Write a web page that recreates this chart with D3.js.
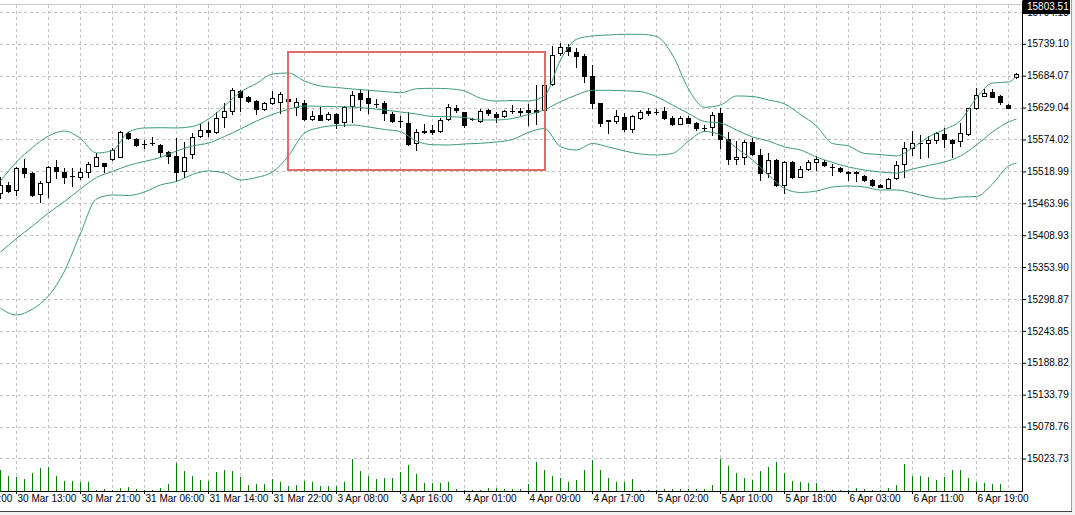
<!DOCTYPE html>
<html lang="en">
<head>
<meta charset="utf-8">
<title>DE30 H1 with Bollinger Bands</title>
<script src="https://cdn.jsdelivr.net/npm/d3@7"></script>
<style>
  body { margin: 0; background: #f0f0f0; }
  svg text { font-family: "Liberation Sans", Arial, sans-serif; font-size: 10px; }
</style>
</head>
<body>
<script>
// H1 bars, left to right (bar 0 = 30 Mar 11:00)
var open = [15481.7,15495.6,15486.1,15524.3,15516.2,15479.5,15500.2,15526.0,15518.8,15511.9,
  15509.8,15517.1,15528.8,15533.0,15540.4,15544.3,15585.8,15574.4,15567.1,15568.0,
  15564.5,15553.3,15545.0,15520.2,15548.5,15579.2,15590.4,15586.5,15612.3,15623.7,
  15657.7,15647.3,15641.0,15626.1,15636.5,15638.2,15643.9,15629.6,15636.5,15608.9,
  15616.3,15608.9,15617.2,15604.7,15631.8,15653.7,15645.1,15636.1,15637.0,15617.2,
  15606.5,15601.9,15567.5,15587.5,15590.4,15589.5,15608.9,15628.4,15620.9,15610.2,
  15606.5,15624.9,15618.0,15614.6,15623.7,15623.7,15624.9,15624.4,15624.4,15668.9,
  15722.7,15734.4,15725.5,15718.1,15683.6,15637.5,15607.1,15606.5,15612.8,15592.1,
  15610.6,15623.5,15622.3,15623.2,15610.6,15601.6,15611.9,15601.9,15594.7,15596.1,
  15619.7,15574.4,15539.9,15543.0,15570.2,15547.3,15515.7,15538.7,15494.7,15535.2,
  15509.8,15523.1,15534.4,15536.0,15527.4,15524.9,15517.1,15518.3,15511.6,15504.2,
  15495.0,15491.2,15507.1,15531.8,15558.9,15567.5,15568.5,15573.7,15583.2,15573.7,
  15571.9,15583.5,15627.8,15649.7,15655.9,15648.2,15634.0,15681.3];
var high = [15509.4,15501.2,15527.4,15540.4,15517.1,15502.4,15528.8,15538.7,15525.7,15524.0,
  15524.3,15535.7,15551.2,15533.5,15559.4,15588.7,15587.5,15577.1,15573.2,15578.4,
  15566.3,15554.2,15576.1,15569.7,15584.4,15601.6,15604.2,15622.0,15637.8,15663.7,
  15659.4,15649.1,15642.2,15639.2,15657.7,15655.4,15652.5,15645.6,15643.0,15623.2,
  15629.6,15620.6,15619.7,15631.8,15657.7,15660.3,15659.4,15643.9,15640.4,15621.5,
  15614.6,15620.6,15592.1,15599.9,15599.0,15611.1,15634.4,15633.5,15622.0,15610.3,
  15625.8,15626.6,15620.6,15624.9,15633.5,15627.5,15636.1,15668.0,15687.0,15735.3,
  15739.9,15738.8,15732.7,15721.5,15702.5,15637.8,15608.5,15624.9,15619.7,15616.3,
  15624.9,15627.5,15627.0,15629.6,15614.6,15613.7,15614.0,15604.7,15599.0,15622.0,
  15627.8,15586.1,15571.4,15572.3,15576.6,15556.8,15550.2,15539.9,15536.9,15536.9,
  15528.3,15539.2,15546.4,15539.2,15531.8,15527.4,15519.7,15519.7,15512.8,15505.9,
  15496.4,15507.1,15536.4,15570.2,15588.7,15582.6,15579.5,15587.5,15593.3,15574.4,
  15601.9,15628.4,15662.3,15660.3,15660.3,15650.8,15634.4,15688.2];
var low = [15473.1,15482.6,15478.3,15509.8,15476.6,15466.7,15474.3,15507.6,15499.5,15494.3,
  15505.9,15509.8,15528.3,15518.5,15538.7,15543.8,15574.9,15562.8,15559.4,15564.5,
  15545.6,15533.5,15501.9,15509.8,15542.1,15578.4,15580.0,15584.7,15595.6,15618.0,
  15624.0,15638.7,15618.0,15624.9,15636.1,15619.2,15633.5,15617.1,15607.7,15608.5,
  15607.7,15607.7,15593.3,15597.3,15604.7,15624.9,15619.2,15629.6,15607.7,15604.7,
  15595.6,15564.5,15555.9,15584.7,15584.3,15587.8,15607.7,15622.3,15596.1,15608.5,
  15604.7,15616.3,15604.7,15613.4,15619.2,15616.3,15599.0,15600.7,15622.0,15668.0,
  15719.8,15719.8,15699.6,15673.7,15627.8,15597.3,15585.8,15602.6,15588.7,15587.5,
  15608.9,15615.5,15618.0,15608.9,15599.0,15599.9,15601.9,15590.4,15589.2,15581.8,
  15560.2,15531.8,15531.8,15531.8,15547.3,15503.5,15509.8,15493.8,15482.3,15507.9,
  15508.8,15521.9,15521.4,15528.3,15513.6,15518.5,15504.2,15502.4,15502.9,15493.8,
  15491.6,15489.8,15505.4,15508.8,15548.1,15542.1,15543.3,15568.8,15560.6,15544.3,
  15562.8,15581.8,15626.1,15648.7,15646.9,15635.3,15628.9,15679.6];
var close = [15495.6,15485.7,15525.7,15515.7,15479.1,15499.0,15526.0,15519.7,15509.8,15511.0,
  15517.9,15531.8,15543.3,15528.3,15555.9,15586.5,15576.1,15563.7,15566.3,15567.5,
  15553.0,15545.6,15518.5,15543.3,15577.5,15590.4,15586.5,15610.6,15623.2,15659.4,
  15646.5,15641.0,15626.1,15637.0,15645.1,15652.5,15641.0,15638.2,15608.9,15614.6,
  15608.5,15617.2,15603.0,15630.6,15651.6,15643.9,15637.8,15635.3,15619.2,15606.5,
  15605.9,15565.7,15587.8,15588.2,15587.8,15607.7,15630.6,15625.4,15598.2,15608.9,
  15623.2,15619.2,15613.4,15623.2,15623.2,15620.6,15620.6,15620.9,15668.0,15719.8,
  15734.4,15726.7,15718.1,15683.6,15637.5,15601.9,15606.5,15614.6,15592.6,15614.6,
  15621.5,15618.9,15621.8,15610.6,15600.4,15611.9,15603.3,15593.0,15594.2,15616.3,
  15574.4,15539.9,15543.8,15570.2,15549.0,15515.7,15538.7,15495.6,15535.2,15509.8,
  15522.6,15535.2,15539.9,15530.0,15526.6,15519.2,15516.2,15515.7,15504.2,15495.6,
  15492.9,15505.4,15530.0,15558.9,15567.5,15568.3,15573.2,15585.2,15574.4,15568.5,
  15584.7,15627.8,15650.8,15653.9,15648.0,15638.2,15629.2,15687.0];
var volume = [620,470,420,380,530,680,720,470,320,320,270,270,50,70,50,100,120,80,50,50,
  100,230,830,590,470,350,320,560,620,590,440,200,210,230,380,270,150,180,320,290,
  170,170,170,270,950,590,470,380,410,410,570,770,510,240,260,260,290,70,30,50,
  50,100,100,70,70,70,230,870,620,470,410,290,350,620,930,620,410,290,290,380,
  30,30,50,70,70,70,70,70,70,200,950,740,530,410,350,590,710,860,530,320,
  290,260,260,30,30,30,30,100,70,30,30,100,200,800,470,470,440,350,440,620,
  620,410,290,260,230,230,20,10];

// Bollinger Bands, read every second bar (0, 2, ... 126) plus the last bar
var bandBars = d3.range(0, 128, 2).concat([127]);
var bandUpper = [15502.4,15535.2,15560.2,15580.1,15588.7,15575.7,15550.7,15555.0,15587.0,15593.9,
  15594.4,15593.9,15596.4,15609.4,15631.8,15656.0,15670.6,15687.0,15688.7,15674.9,
  15666.3,15663.7,15661.1,15658.9,15656.8,15654.7,15661.5,15662.3,15661.5,15657.7,
  15645.1,15640.4,15641.3,15640.4,15649.6,15711.2,15746.9,15752.6,15754.3,15755.5,
  15755.5,15751.7,15719.8,15661.1,15629.6,15633.5,15649.1,15648.2,15642.2,15635.3,
  15617.1,15597.3,15567.1,15562.8,15549.9,15548.1,15545.6,15559.4,15578.4,15591.3,
  15606.8,15645.6,15671.5,15673.2,15683.6];
var bandMiddle = [15380.0,15403.2,15424.8,15447.2,15467.1,15488.6,15508.5,15518.8,15529.2,15536.1,
  15543.0,15554.2,15562.8,15568.0,15579.2,15592.1,15605.9,15617.1,15626.1,15631.8,
  15631.3,15630.6,15630.1,15627.8,15624.9,15621.5,15618.0,15613.7,15613.4,15612.0,
  15607.7,15607.7,15610.2,15617.1,15625.2,15639.2,15650.8,15658.9,15658.9,15658.0,
  15656.5,15647.9,15633.5,15618.9,15605.0,15602.4,15590.4,15578.4,15571.4,15561.1,
  15555.9,15543.8,15534.4,15526.6,15521.4,15518.0,15516.2,15523.1,15529.2,15535.2,
  15545.6,15564.5,15587.0,15604.2,15609.4];
var bandLower = [15282.8,15271.3,15281.6,15304.1,15347.2,15412.2,15471.4,15478.3,15477.4,15483.5,
  15495.6,15501.6,15513.6,15519.7,15516.2,15504.2,15508.5,15518.0,15545.6,15585.2,
  15594.7,15598.2,15599.0,15595.6,15591.3,15587.5,15571.4,15565.0,15564.5,15566.3,
  15567.5,15569.7,15574.0,15586.1,15593.0,15561.6,15555.9,15567.1,15561.1,15554.2,
  15549.0,15547.3,15549.9,15571.4,15587.8,15581.8,15559.4,15538.7,15512.8,15489.5,
  15482.6,15485.2,15492.1,15493.8,15492.1,15486.9,15486.9,15481.7,15474.8,15471.4,
  15474.8,15475.7,15497.3,15528.3,15533.0];

// price scale ticks and time labels
var priceTicks = [15023.73,15078.76,15133.79,15188.82,15243.85,15298.87,15353.90,15408.93,
  15463.96,15518.99,15574.02,15629.04,15684.07,15739.10,15794.13];
var topPrice = 15803.51;
var timeBars = [-6,2,10,18,26,34,42,50,58,66,74,82,90,98,106,114,122];
var timeLabels = ["30 Mar 05:00","30 Mar 13:00","30 Mar 21:00","31 Mar 06:00","31 Mar 14:00",
  "31 Mar 22:00","3 Apr 08:00","3 Apr 16:00","4 Apr 01:00","4 Apr 09:00","4 Apr 17:00",
  "5 Apr 02:00","5 Apr 10:00","5 Apr 18:00","6 Apr 03:00","6 Apr 11:00","6 Apr 19:00"];
var gridBars = d3.range(2, 128, 4);

// rectangle object drawn on the chart (bar range and price range)
var boxBars = [36, 68];
var boxPrices = [15725.5, 15521.4];

var width = 1075;
var height = 515;

var svg = d3.select("body")
  .append("svg")
  .attr("width", width)
  .attr("height", height);

// window face and frame
svg.append("rect").attr("x", 0).attr("y", 0).attr("width", 1071).attr("height", 511).attr("fill", "#ffffff");
svg.append("line").attr("x1", 1071.5).attr("x2", 1071.5).attr("y1", 0).attr("y2", 512)
  .attr("stroke", "#a0a0a0");
svg.append("line").attr("x1", 0).attr("x2", 1072).attr("y1", 511.5).attr("y2", 511.5)
  .attr("stroke", "#404040");

var x = d3.scaleLinear().domain([0, 127.75]).range([0, 1022]);
var y = d3.scaleLinear().domain([14966.8, 15814.65]).range([491.5, 0]);
var v = d3.scaleLinear().domain([0, 1000]).range([491.5, 457.5]);

var plot = svg.append("g").attr("shape-rendering", "crispEdges");

// top edge of chart area
plot.append("line").attr("x1", 0).attr("x2", 1022).attr("y1", 4.5).attr("y2", 4.5)
  .attr("stroke", "#c8c8c8");

// grid
plot.selectAll(".hgrid")
  .data(priceTicks)
  .enter()
  .append("line")
  .attr("x1", 0).attr("x2", 1022)
  .attr("y1", function(d) { return Math.round(y(d)) + 0.5; })
  .attr("y2", function(d) { return Math.round(y(d)) + 0.5; })
  .attr("stroke", "#c0c0c0")
  .attr("stroke-dasharray", "3,3");

plot.selectAll(".vgrid")
  .data(gridBars)
  .enter()
  .append("line")
  .attr("x1", function(d) { return x(d) + 0.5; })
  .attr("x2", function(d) { return x(d) + 0.5; })
  .attr("y1", 5).attr("y2", 491)
  .attr("stroke", "#c0c0c0")
  .attr("stroke-dasharray", "3,3");

// volumes
plot.selectAll(".vol")
  .data(volume)
  .enter()
  .append("line")
  .attr("x1", function(d, i) { return x(i) + 0.5; })
  .attr("x2", function(d, i) { return x(i) + 0.5; })
  .attr("y1", v(0))
  .attr("y2", function(d) { return Math.round(v(d)); })
  .attr("stroke", "#008000");

// bollinger bands
function bandLine(values) {
  return d3.line()
    .x(function(d, k) { return x(bandBars[k]) + 0.5; })
    .y(function(d) { return y(d); })
    .curve(d3.curveMonotoneX)(values);
}
var bands = svg.append("g");
[bandUpper, bandMiddle, bandLower].forEach(function(b) {
  bands.append("path")
    .attr("d", bandLine(b))
    .attr("fill", "none")
    .attr("stroke", "#3a9c74")
    .attr("stroke-width", 1);
});

// candles
var candles = plot.selectAll(".candle")
  .data(open)
  .enter()
  .append("g");

candles.append("line")
  .attr("x1", function(d, i) { return x(i) + 0.5; })
  .attr("x2", function(d, i) { return x(i) + 0.5; })
  .attr("y1", function(d, i) { return Math.round(y(high[i])); })
  .attr("y2", function(d, i) { return Math.round(y(low[i])) + 1; })
  .attr("stroke", "#000");

candles.each(function(d, i) {
  var g = d3.select(this);
  var top = Math.round(y(Math.max(open[i], close[i])));
  var bot = Math.round(y(Math.min(open[i], close[i])));
  var cx = x(i);
  if (bot - top < 1) {
    g.append("line")
      .attr("x1", cx - 2).attr("x2", cx + 3)
      .attr("y1", top + 0.5).attr("y2", top + 0.5)
      .attr("stroke", "#000");
  } else {
    g.append("rect")
      .attr("x", cx - 1.5)
      .attr("y", top + 0.5)
      .attr("width", 4)
      .attr("height", bot - top)
      .attr("fill", close[i] >= open[i] ? "#ffffff" : "#000000")
      .attr("stroke", "#000");
  }
});

// rectangle object
svg.append("rect")
  .attr("x", x(boxBars[0]))
  .attr("y", y(boxPrices[0]))
  .attr("width", x(boxBars[1]) - x(boxBars[0]) + 1)
  .attr("height", y(boxPrices[1]) - y(boxPrices[0]))
  .attr("fill", "none")
  .attr("stroke", "#e26a6a")
  .attr("stroke-width", 2)
  .attr("shape-rendering", "crispEdges");

// price axis
var yAxis = d3.axisRight(y)
  .tickValues(priceTicks)
  .tickSize(4)
  .tickSizeOuter(0)
  .tickPadding(1)
  .tickFormat(d3.format(".2f"));
var ya = svg.append("g")
  .attr("transform", "translate(1022,0)")
  .call(yAxis);
ya.attr("font-family", null).attr("font-size", null);
ya.selectAll("text").attr("fill", "#000");

// time axis
var xAxis = d3.axisBottom(x)
  .tickValues(timeBars)
  .tickSize(3)
  .tickSizeOuter(0)
  .tickPadding(1)
  .tickFormat(function(d, k) { return timeLabels[k]; });
var xa = svg.append("g")
  .attr("transform", "translate(0,491)")
  .call(xAxis);
xa.attr("font-family", null).attr("font-size", null);
xa.selectAll("text").attr("text-anchor", "start").attr("x", 1).attr("fill", "#000");

// highlighted top price label (covers most of the label under it)
svg.append("rect").attr("x", 1023).attr("y", 0).attr("width", 47).attr("height", 14).attr("fill", "#000");
svg.append("text")
  .attr("x", 1027).attr("y", 10)
  .attr("fill", "#fff")
  .text(d3.format(".2f")(topPrice));
</script>
</body>
</html>
